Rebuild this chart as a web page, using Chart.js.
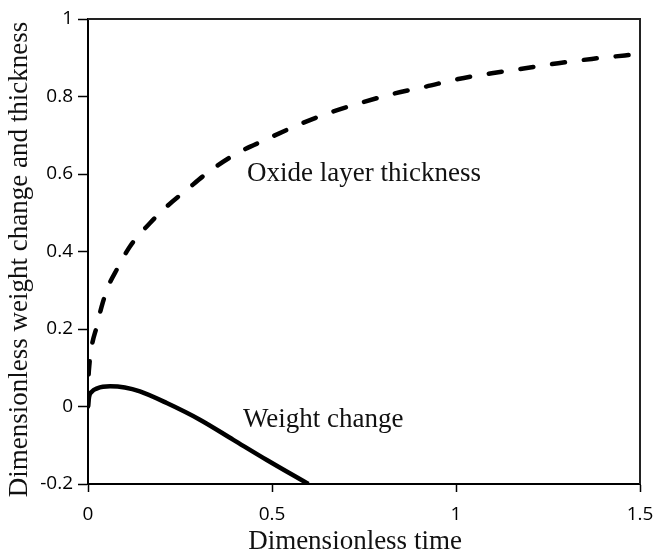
<!DOCTYPE html>
<html>
<head>
<meta charset="utf-8">
<script src="https://cdn.jsdelivr.net/npm/chart.js@4"></script>
<style>
  html, body { margin: 0; padding: 0; background: #fff; }
  canvas { display: block; }
</style>
</head>
<body>
<canvas id="oxideChart" width="657" height="553"></canvas>
<script>
// oxide layer thickness (dashed curve)
const oxideTime = [0, 0.001, 0.004, 0.01, 0.024, 0.037, 0.055, 0.078, 0.114, 0.168, 0.214, 0.268, 0.323, 0.395, 0.486, 0.567, 0.653, 0.739, 0.825, 0.916, 1.006, 1.097, 1.188, 1.278, 1.369, 1.459, 1.5];
const oxideThickness = [0, 0.06, 0.11, 0.155, 0.207, 0.258, 0.31, 0.353, 0.413, 0.473, 0.516, 0.559, 0.602, 0.648, 0.69, 0.725, 0.757, 0.783, 0.806, 0.825, 0.845, 0.86, 0.873, 0.886, 0.897, 0.906, 0.91];

// weight change (solid curve)
const weightTime = [0, 0.003, 0.01, 0.025, 0.06, 0.1, 0.141, 0.214, 0.304, 0.395, 0.486, 0.599];
const weightChange = [0, 0.025, 0.038, 0.047, 0.052, 0.049, 0.039, 0.009, -0.034, -0.086, -0.138, -0.2];

// curve labels placed in data units
const noteTexts = ['Oxide layer thickness', 'Weight change'];
const noteX = [0.432, 0.421];
const noteY = [0.581, -0.052];

const xTitle = 'Dimensionless time';
const yTitle = 'Dimensionless weight change and thickness';

const serif = '"Liberation Serif", "Times New Roman", serif';
const sans = '"Open Sans", "Noto Sans", sans-serif';

function tickText(value) {
    const v = Math.round(value * 10) / 10;
    return v === 0 ? '0' : String(v);
}

const frameAndNotes = {
    id: 'frameAndNotes',
    afterDatasetsDraw(chart) {
        const { ctx, chartArea, scales } = chart;
        ctx.save();
        // top and right sides of the box
        ctx.strokeStyle = '#222';
        ctx.lineWidth = 2;
        ctx.beginPath();
        ctx.moveTo(chartArea.left, chartArea.top);
        ctx.lineTo(chartArea.right, chartArea.top);
        ctx.lineTo(chartArea.right, chartArea.bottom);
        ctx.stroke();

        ctx.font = '27px ' + serif;
        ctx.fillStyle = '#111';
        ctx.textAlign = 'left';
        ctx.textBaseline = 'alphabetic';
        noteTexts.forEach((text, i) => {
            ctx.fillText(text, scales.x.getPixelForValue(noteX[i]), scales.y.getPixelForValue(noteY[i]));
        });

        // axis titles
        ctx.textAlign = 'center';
        ctx.textBaseline = 'middle';
        ctx.fillText(xTitle, chartArea.left + (chartArea.right - chartArea.left) / 2 - 9, 542);
        ctx.translate(20, (chartArea.top + chartArea.bottom) / 2 + 8);
        ctx.rotate(-Math.PI / 2);
        ctx.fillText(yTitle, 0, 0);
        ctx.restore();
    }
};

const ctx = document.getElementById('oxideChart').getContext('2d');

new Chart(ctx, {
    type: 'line',
    data: {
        datasets: [
            {
                label: 'Oxide layer thickness',
                data: oxideTime.map((t, i) => ({ x: t, y: oxideThickness[i] })),
                borderColor: '#000',
                borderWidth: 4.5,
                borderDash: [13, 19],
                borderCapStyle: 'round',
                cubicInterpolationMode: 'monotone',
                pointRadius: 0,
                fill: false
            },
            {
                label: 'Weight change',
                data: weightTime.map((t, i) => ({ x: t, y: weightChange[i] })),
                borderColor: '#000',
                borderWidth: 4.5,
                cubicInterpolationMode: 'monotone',
                pointRadius: 0,
                fill: false
            }
        ]
    },
    options: {
        responsive: false,
        animation: false,
        layout: {
            padding: { top: 19, right: 17, left: 0, bottom: 0 }
        },
        plugins: {
            legend: { display: false },
            tooltip: { enabled: false }
        },
        scales: {
            x: {
                type: 'linear',
                min: 0,
                max: 1.5,
                afterFit: scale => {
                    scale.height = 69;
                    scale.paddingLeft = 0;
                    scale.paddingRight = 0;
                },
                border: { display: true, color: '#000', width: 2 },
                grid: { display: true, drawOnChartArea: false, drawTicks: true, tickLength: 8, tickColor: '#000', tickWidth: 1.5 },
                ticks: {
                    stepSize: 0.5,
                    color: '#000',
                    padding: 11,
                    maxRotation: 0,
                    font: { family: sans, size: 19 },
                    callback: tickText
                }
            },
            y: {
                min: -0.2,
                max: 1,
                afterFit: scale => {
                    scale.width = 88;
                    scale.paddingTop = 0;
                    scale.paddingBottom = 0;
                },
                border: { display: true, color: '#000', width: 2 },
                grid: { display: true, drawOnChartArea: false, drawTicks: true, tickLength: 10, tickColor: '#000', tickWidth: 1.5 },
                ticks: {
                    stepSize: 0.2,
                    color: '#000',
                    padding: 5,
                    font: { family: sans, size: 19 },
                    callback: tickText
                }
            }
        }
    },
    plugins: [frameAndNotes]
});
</script>
</body>
</html>
